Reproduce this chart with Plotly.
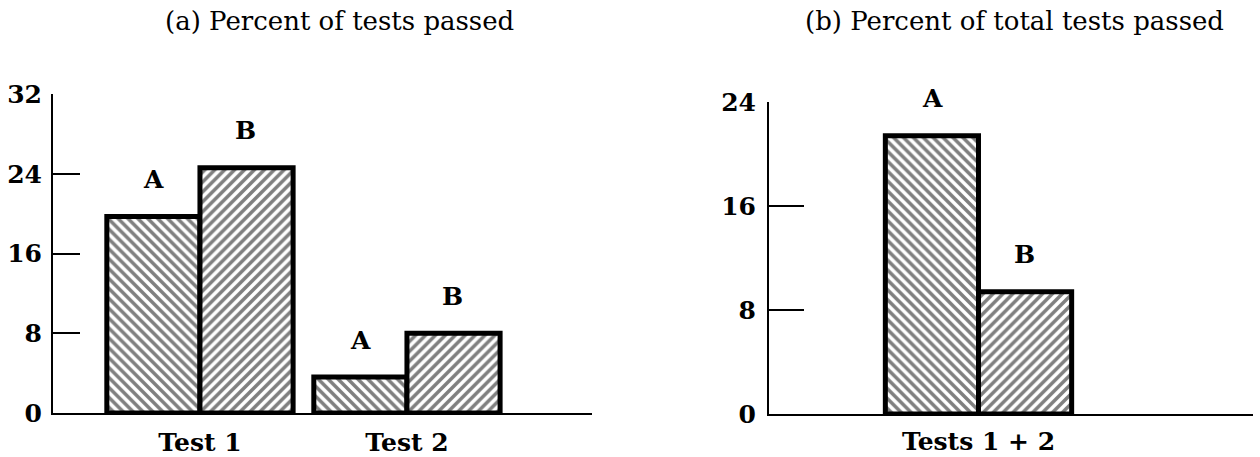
import plotly.graph_objects as go

# Panel (a): percent of each test passed, by group
tests = ["Test 1", "Test 2"]
group_a_pct = [19.7, 3.6]
group_b_pct = [24.6, 8.0]

# Panel (b): percent of all tests passed, by group
combined = ["Tests 1 + 2"]
group_a_total = [21.4]
group_b_total = [9.4]

left_ticks = [0, 8, 16, 24, 32]
right_ticks = [0, 8, 16, 24]
series_names = ["A", "B"]
titles = ["(a) Percent of tests passed", "(b) Percent of total tests passed"]

SERIF = "DejaVu Serif"
INK = "black"
W, H = 1260, 457


def hatched_bar(x, y, name, shape, xa, ya):
    return go.Bar(
        x=x, y=y, name=name, xaxis=xa, yaxis=ya,
        marker=dict(
            color="white",
            line=dict(color=INK, width=5),
            pattern=dict(shape=shape, fgcolor=INK, bgcolor="white",
                         size=7, solidity=0.5, fillmode="overlay"),
        ),
        cliponaxis=False,
        showlegend=False,
        hoverinfo="skip",
    )


fig = go.Figure()
fig.add_trace(hatched_bar(tests, group_a_pct, series_names[0], "\\", "x", "y"))
fig.add_trace(hatched_bar(tests, group_b_pct, series_names[1], "/", "x", "y"))
fig.add_trace(hatched_bar(combined, group_a_total, series_names[0], "\\", "x2", "y2"))
fig.add_trace(hatched_bar(combined, group_b_total, series_names[1], "/", "x2", "y2"))

label_font = dict(family=SERIF, size=25, color=INK, weight="bold")

# series letters above each bar
BAR_HALF = 46
annotations = []
for cats, vals_a, vals_b, xref, yref in [
    (tests, group_a_pct, group_b_pct, "x", "y"),
    (combined, group_a_total, group_b_total, "x2", "y2"),
]:
    for c, va, vb in zip(cats, vals_a, vals_b):
        for label, v, sx in [(series_names[0], va, -BAR_HALF), (series_names[1], vb, BAR_HALF)]:
            annotations.append(dict(
                x=c, y=v, xref=xref, yref=yref, text=label, showarrow=False,
                xshift=sx, yshift=37, yanchor="middle",
                font=label_font,
            ))

for t, cx in zip(titles, [339, 1014]):
    annotations.append(dict(
        x=cx / W, y=1 - 21 / H, xref="paper", yref="paper", text=t,
        showarrow=False, xanchor="center", yanchor="middle",
        font=dict(family=SERIF, size=26, color=INK),
    ))

fig.update_layout(
    width=W, height=H,
    margin=dict(l=0, r=0, t=0, b=0, pad=0, autoexpand=False),
    paper_bgcolor="white", plot_bgcolor="white",
    barmode="group", bargap=0.1, bargroupgap=0,
    font=dict(family=SERIF, size=25, color=INK),
    annotations=annotations,
    xaxis=dict(
        domain=[53 / W, 592 / W], anchor="y", type="category",
        range=[-0.71, 1.894], showline=True, linecolor=INK, linewidth=2,
        ticks="", showgrid=False, zeroline=False, tickfont=label_font,
        ticklabelstandoff=6, automargin=False,
    ),
    yaxis=dict(
        domain=[44 / H, 363 / H], anchor="x", range=[0, 32],
        tickvals=left_ticks, ticks="inside", ticklen=27, tickwidth=2,
        tickcolor=INK, showline=True, linecolor=INK, linewidth=2,
        showgrid=False, zeroline=False, tickfont=label_font,
        ticklabelstandoff=4, automargin=False,
    ),
    xaxis2=dict(
        domain=[769 / W, 1253 / W], anchor="y2", type="category",
        range=[-1.012, 1.326], showline=True, linecolor=INK, linewidth=2,
        ticks="", showgrid=False, zeroline=False, tickfont=label_font,
        ticklabelstandoff=4, automargin=False,
    ),
    yaxis2=dict(
        domain=[43 / H, 355 / H], anchor="x2", range=[0, 24],
        tickvals=right_ticks, ticks="inside", ticklen=35, tickwidth=2,
        tickcolor=INK, showline=True, linecolor=INK, linewidth=2,
        showgrid=False, zeroline=False, tickfont=label_font,
        ticklabelstandoff=6, automargin=False,
    ),
)

fig.write_html("out.html")
